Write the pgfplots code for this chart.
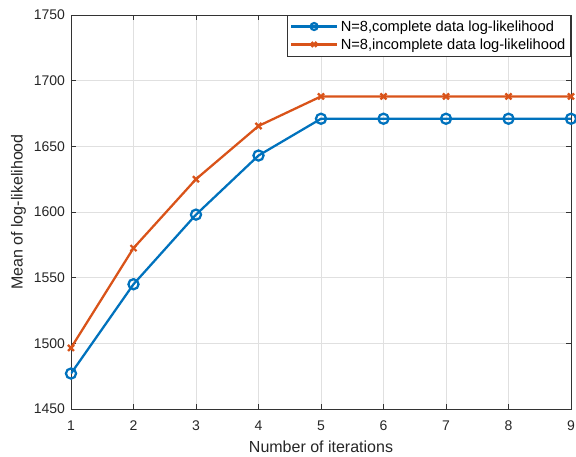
\documentclass[border=0pt]{standalone}
\usepackage{fontspec}
\setmainfont{Liberation Sans}
\usepackage{pgfplots}
\pgfplotsset{compat=1.18}
\definecolor{mblue}{RGB}{0,114,189}
\definecolor{morange}{RGB}{217,83,25}
\begin{document}
\begin{tikzpicture}
\begin{axis}[
  scale only axis,
  width=375pt, height=295.5pt,
  xmin=1, xmax=9, ymin=1450, ymax=1750,
  xtick={1,...,9}, ytick={1450,1500,...,1750},
  /pgf/number format/assume math mode=true,
  /pgf/number format/1000 sep={},
  tick label style={font=\fontsize{10.5}{12}\selectfont, color=black!85},
  xticklabel style={yshift=-5pt},
  yticklabel style={xshift=-1pt},
  label style={font=\fontsize{12}{14}\selectfont, color=black!85},
  xlabel={Number of iterations},
  ylabel={Mean of log-likelihood},
  xlabel style={yshift=-1pt},
  ylabel style={yshift=-1pt},
  grid=major, major grid style={black!12, line width=0.5pt},
  tick align=inside, major tick length=4pt,
  axis line style={black!80, line width=0.5pt},
  every tick/.style={black!80},
  legend style={at={(1,1)}, anchor=north east, font=\fontsize{11}{13}\selectfont,
    draw=black!80, inner sep=2pt, row sep=0pt},
  legend cell align=left,
  legend image code/.code={%
    \draw[line width=2pt, mark repeat=2, mark phase=2, mark size=2.6pt,
          mark options={line width=1.7pt}]
      plot coordinates {(0pt,0.3pt) (17pt,0.3pt) (34pt,0.3pt)};},
]
\coordinate (ll) at (rel axis cs:0,0);
\coordinate (ur) at (rel axis cs:1,1);
\addplot[mblue, line width=1.7pt, mark=o, mark size=3.8pt, mark options={line width=1.7pt}] coordinates {
 (1,1477) (2,1545) (3,1598) (4,1643) (5,1671) (6,1671) (7,1671) (8,1671) (9,1671)};
\addlegendentry{N=8,complete data log-likelihood}
\addplot[morange, line width=1.7pt, mark=x, mark size=3.2pt, mark options={line width=1.7pt}] coordinates {
 (1,1496.5) (2,1572.5) (3,1625) (4,1665.5) (5,1688) (6,1688) (7,1688) (8,1688) (9,1688)};
\addlegendentry{N=8,incomplete data log-likelihood}
\end{axis}
\pgfresetboundingbox
\path ([shift={(-53.25pt,-36pt)}]ll) rectangle ([shift={(3.75pt,11.25pt)}]ur);
\end{tikzpicture}
\end{document}
